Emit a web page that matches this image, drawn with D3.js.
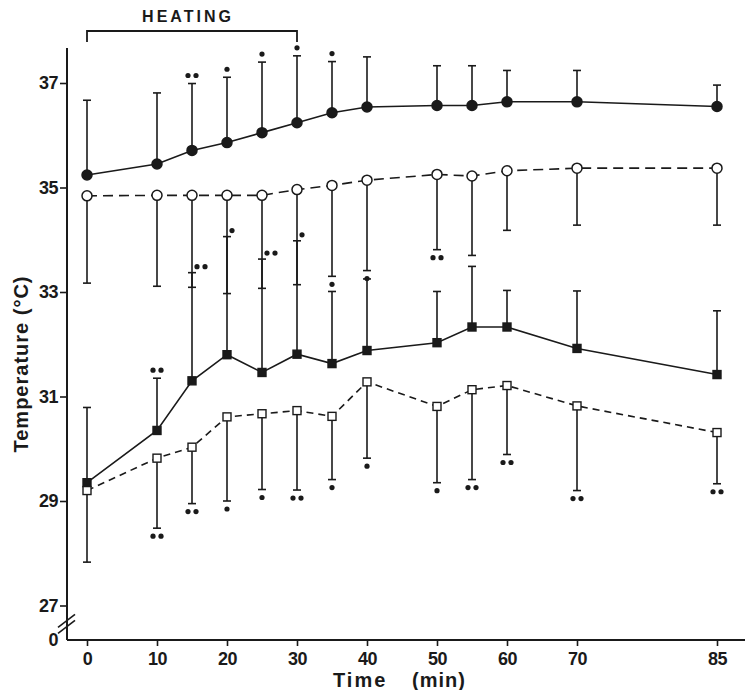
<!DOCTYPE html>
<html>
<head>
<meta charset="utf-8">
<script src="https://cdn.jsdelivr.net/npm/d3@7"></script>
<style>
  body { margin: 0; background: #fff; }
  text { font-family: "Liberation Sans", Arial, Helvetica, sans-serif; fill: #1a1a1a; }
</style>
</head>
<body>
<svg width="748" height="690"></svg>
<script>
// time points (min)
var times = [0, 10, 15, 20, 25, 30, 35, 40, 50, 55, 60, 70, 85];
var xTicks = [0, 10, 20, 30, 40, 50, 60, 70, 85];
var yTicks = [0, 27, 29, 31, 33, 35, 37];

// filled circles, solid line, upper SD
var filledCircle = [35.24, 35.45, 35.71, 35.86, 36.05, 36.24, 36.43, 36.54, 36.57, 36.57, 36.64, 36.64, 36.55];
var filledCircleHigh = [36.67, 36.81, 36.99, 37.11, 37.40, 37.52, 37.41, 37.50, 37.33, 37.33, 37.24, 37.24, 36.96];
var filledCircleSig = [0, 0, 2, 1, 1, 1, 1, 0, 0, 0, 0, 0, 0];

// open circles, dashed line, lower SD
var openCircle = [34.84, 34.85, 34.85, 34.85, 34.85, 34.96, 35.04, 35.14, 35.25, 35.22, 35.32, 35.37, 35.37];
var openCircleLow = [33.17, 33.11, 33.09, 32.97, 33.07, 33.14, 33.30, 33.41, 33.81, 33.70, 34.18, 34.28, 34.28];
var openCircleSig = [0, 0, 0, 0, 0, 0, 1, 1, 2, 0, 0, 0, 0];

// filled squares, solid line, upper SD
var filledSquare = [29.35, 30.35, 31.30, 31.80, 31.46, 31.81, 31.63, 31.88, 32.03, 32.33, 32.33, 31.92, 31.42];
var filledSquareHigh = [30.79, 31.35, 33.37, 34.06, 33.63, 33.98, 33.01, 33.25, 33.01, 33.49, 33.03, 33.02, 32.64];
var filledSquareSig = [0, 2, 2, 1, 2, 1, 0, 0, 0, 0, 0, 0, 0];

// open squares, dashed line, lower SD
var openSquare = [29.20, 29.82, 30.03, 30.61, 30.67, 30.73, 30.62, 31.28, 30.81, 31.13, 31.21, 30.82, 30.31];
var openSquareLow = [27.83, 28.48, 28.95, 29.00, 29.22, 29.21, 29.41, 29.82, 29.35, 29.41, 29.89, 29.20, 29.33];
var openSquareSig = [0, 2, 2, 1, 1, 2, 1, 1, 1, 2, 2, 2, 2];

var ink = "#1a1a1a";
var svg = d3.select("svg");

// x axis has a compressed gap between 70 and 85, y axis is broken between 0 and 27
var x = d3.scaleLinear().domain([0, 70, 85]).range([87, 577, 717]);
var y = d3.scaleLinear().domain([0, 27, 37]).range([640, 605.5, 83]);

var axisLeftX = 67, axisTop = 48, axisRight = 745;

// axes
var yAxis = d3.axisLeft(y).tickValues(yTicks).tickSize(7).tickPadding(2);
var gy = svg.append("g")
    .attr("transform", "translate(" + axisLeftX + ",0)")
    .call(yAxis);
gy.select(".domain").remove();
gy.selectAll(".tick line").attr("stroke", ink).attr("stroke-width", 1.6)
    .filter(function(d) { return d === 0; }).remove();
gy.selectAll(".tick text").style("font-size", "18px").style("font-weight", "bold")
    .style("letter-spacing", "-0.5px").style("fill", ink);

var xAxis = d3.axisBottom(x).tickValues(xTicks).tickSize(6).tickPadding(6);
var gx = svg.append("g")
    .attr("transform", "translate(0," + y(0) + ")")
    .call(xAxis);
gx.select(".domain").remove();
gx.selectAll(".tick line").attr("stroke", ink).attr("stroke-width", 1.6);
gx.selectAll(".tick text").style("font-size", "18px").style("font-weight", "bold")
    .style("letter-spacing", "-0.5px").style("fill", ink);

svg.append("line")
    .attr("x1", axisLeftX).attr("x2", axisLeftX)
    .attr("y1", axisTop).attr("y2", y(0))
    .attr("stroke", ink).attr("stroke-width", 2);
svg.append("line")
    .attr("x1", axisLeftX).attr("x2", axisRight)
    .attr("y1", y(0)).attr("y2", y(0))
    .attr("stroke", ink).attr("stroke-width", 2);

// axis break marks
var yb = y(13);
[-3, 3].forEach(function(o) {
    svg.append("line")
        .attr("x1", axisLeftX - 9).attr("y1", yb + o + 7)
        .attr("x2", axisLeftX + 8).attr("y2", yb + o - 6)
        .attr("stroke", ink).attr("stroke-width", 1.6);
});

// axis titles
svg.append("text")
    .attr("transform", "translate(28," + 364 + ") rotate(-90)")
    .attr("text-anchor", "middle")
    .style("font-size", "20px").style("font-weight", "bold").style("letter-spacing", "1px")
    .text("Temperature  (°C)");
svg.append("text")
    .attr("x", 333).attr("y", 687)
    .style("font-size", "20px").style("font-weight", "bold").style("letter-spacing", "2px")
    .text("Time");
svg.append("text")
    .attr("x", 412).attr("y", 687)
    .style("font-size", "20px").style("font-weight", "bold").style("letter-spacing", "1px")
    .text("(min)");

// heating bracket
svg.append("path")
    .attr("d", "M" + x(0) + ",42 V31 H" + x(30) + " V42")
    .attr("fill", "none").attr("stroke", ink).attr("stroke-width", 1.8);
svg.append("text")
    .attr("x", (x(0) + x(30)) / 2 - 4).attr("y", 22)
    .attr("text-anchor", "middle")
    .style("font-size", "16px").style("font-weight", "bold").style("letter-spacing", "3px")
    .text("HEATING");

// error bars: from the mean to the cap
function errorBars(mean, cap) {
    var g = svg.append("g").attr("stroke", ink).attr("stroke-width", 1.6);
    times.forEach(function(t, i) {
        g.append("line")
            .attr("x1", x(t)).attr("x2", x(t))
            .attr("y1", y(mean[i])).attr("y2", y(cap[i]));
        g.append("line")
            .attr("x1", x(t) - 4).attr("x2", x(t) + 4)
            .attr("y1", y(cap[i])).attr("y2", y(cap[i]));
    });
}
errorBars(filledCircle, filledCircleHigh);
errorBars(openCircle, openCircleLow);
errorBars(filledSquare, filledSquareHigh);
errorBars(openSquare, openSquareLow);

// significance dots
function sigDots(cap, sig, dir, shifted) {
    times.forEach(function(t, i) {
        var n = sig[i];
        if (!n) return;
        var cy = y(cap[i]) + dir * (shifted && shifted(i) ? 6 : 8);
        var cx0 = shifted && shifted(i) ? x(t) + 5 : x(t) - (n - 1) * 4;
        for (var k = 0; k < n; k++) {
            svg.append("circle")
                .attr("cx", cx0 + k * 8).attr("cy", cy)
                .attr("r", 2.6).attr("fill", ink);
        }
    });
}
sigDots(filledCircleHigh, filledCircleSig, -1);
sigDots(openCircleLow, openCircleSig, 1);
sigDots(filledSquareHigh, filledSquareSig, -1, function(i) {
    return filledSquareHigh[i] > openCircleLow[i] - 0.3;
});
sigDots(openSquareLow, openSquareSig, 1);

// lines
function seriesLine(values, dash) {
    var line = d3.line()
        .x(function(d, i) { return x(times[i]); })
        .y(function(d) { return y(d); });
    svg.append("path")
        .datum(values)
        .attr("fill", "none")
        .attr("stroke", ink)
        .attr("stroke-width", 1.6)
        .attr("stroke-dasharray", dash)
        .attr("d", line);
}
seriesLine(filledCircle, null);
seriesLine(openCircle, "10,6");
seriesLine(filledSquare, null);
seriesLine(openSquare, "7,5");

// points
function circles(values, filled) {
    svg.append("g").selectAll("circle")
        .data(values)
        .join("circle")
        .attr("cx", function(d, i) { return x(times[i]); })
        .attr("cy", function(d) { return y(d); })
        .attr("r", 5)
        .attr("fill", filled ? ink : "#fff")
        .attr("stroke", ink)
        .attr("stroke-width", 1.5);
}
function squares(values, filled) {
    var s = 8;
    svg.append("g").selectAll("rect")
        .data(values)
        .join("rect")
        .attr("x", function(d, i) { return x(times[i]) - s / 2; })
        .attr("y", function(d) { return y(d) - s / 2; })
        .attr("width", s).attr("height", s)
        .attr("fill", filled ? ink : "#fff")
        .attr("stroke", ink)
        .attr("stroke-width", 1.4);
}
circles(filledCircle, true);
circles(openCircle, false);
squares(filledSquare, true);
squares(openSquare, false);
</script>
</body>
</html>
